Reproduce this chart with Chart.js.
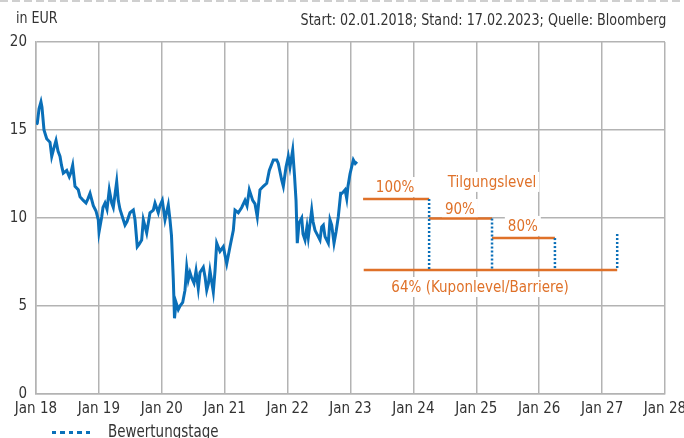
<!DOCTYPE html>
<html>
<head>
<meta charset="utf-8">
<script src="https://cdn.jsdelivr.net/npm/chart.js@4.4.0/dist/chart.umd.min.js"></script>
<style>
body { margin: 0; background: #fff; }
#wrap { position: relative; width: 684px; height: 438px; overflow: hidden; font-family: "Liberation Sans Narrow", "DejaVu Sans Condensed", sans-serif; color: #333; }
#topline { position: absolute; left: 0; top: 0; width: 684px; height: 2px; background: repeating-linear-gradient(to right, #cfcfcf 0 8px, transparent 8px 12px); }
#unit { position: absolute; left: 16px; top: 8px; font-size: 16px; transform: scaleX(0.88); transform-origin: left; }
#source { position: absolute; right: 18px; top: 10px; font-size: 16px; white-space: nowrap; transform: scaleX(0.885); transform-origin: right; }
#legend { position: absolute; left: 52px; top: 421px; font-size: 17px; white-space: nowrap; }
#legend .sample { display: inline-block; width: 42px; height: 3px; vertical-align: middle; margin-right: 14px; background: repeating-linear-gradient(to right, #0a70b9 0 4px, transparent 4px 8.5px); }
#legend .txt { display: inline-block; transform: scaleX(0.88); transform-origin: left; }
canvas { position: absolute; left: 0; top: 0; }
</style>
</head>
<body>
<div id="wrap">
  <canvas id="chart" width="684" height="438"></canvas>
  <div id="topline"></div>
  <div id="unit">in EUR</div>
  <div id="source">Start: 02.01.2018; Stand: 17.02.2023; Quelle: Bloomberg</div>
  <div id="legend"><span class="sample"></span><span class="txt">Bewertungstage</span></div>
</div>
<script>
// Kursverlauf (Zeit in Dezimaljahren)
const priceTimes = [
  2018.008, 2018.021, 2018.048, 2018.079, 2018.095, 2018.127, 2018.170, 2018.223, 2018.250, 2018.286,
  2018.318, 2018.350, 2018.382, 2018.405, 2018.434, 2018.488, 2018.529, 2018.556, 2018.583, 2018.620,
  2018.672, 2018.700, 2018.752, 2018.795, 2018.827, 2018.859, 2018.911, 2018.954, 2018.990,
  2019.002, 2019.045, 2019.065, 2019.097, 2019.129, 2019.165, 2019.204, 2019.229, 2019.283, 2019.308,
  2019.335, 2019.388, 2019.415, 2019.447, 2019.494, 2019.547, 2019.574, 2019.610, 2019.638, 2019.680,
  2019.706, 2019.760, 2019.812, 2019.865, 2019.892, 2019.944, 2019.971,
  2020.008, 2020.051, 2020.075, 2020.103, 2020.130, 2020.154, 2020.183, 2020.202, 2020.226, 2020.262,
  2020.289, 2020.332, 2020.369, 2020.396, 2020.421, 2020.448, 2020.475, 2020.512, 2020.544, 2020.580,
  2020.607, 2020.660, 2020.687, 2020.714, 2020.742, 2020.766, 2020.819, 2020.846, 2020.873, 2020.925,
  2020.978,
  2021.032, 2021.084, 2021.137, 2021.164, 2021.216, 2021.270, 2021.323, 2021.355, 2021.391, 2021.445,
  2021.482, 2021.518, 2021.561, 2021.614, 2021.668, 2021.709, 2021.773, 2021.827, 2021.852, 2021.906,
  2021.932, 2021.975,
  2022.011, 2022.038, 2022.081, 2022.110, 2022.134, 2022.154, 2022.181, 2022.224, 2022.245, 2022.277,
  2022.308, 2022.329, 2022.383, 2022.404, 2022.436, 2022.488, 2022.515, 2022.542, 2022.568, 2022.595,
  2022.647, 2022.674, 2022.701, 2022.738, 2022.770, 2022.806, 2022.844, 2022.865, 2022.913, 2022.940,
  2022.960, 2022.992,
  2023.045, 2023.076, 2023.103
];
const priceValues = [
  15.3, 15.4, 16.2, 16.6, 16.3, 15.0, 14.5, 14.3, 13.5, 14.0,
  14.4, 13.8, 13.5, 13.0, 12.55, 12.7, 12.35, 12.6, 13.0, 11.8,
  11.6, 11.2, 11.0, 10.85, 11.1, 11.4, 10.7, 10.4, 9.9,
  9.2, 10.07, 10.6, 10.85, 10.5, 11.6, 10.85, 10.6, 12.06, 11.0,
  10.5, 9.9, 9.6, 9.8, 10.3, 10.45, 9.9, 8.37, 8.5, 8.75,
  9.9, 9.15, 10.3, 10.45, 10.85, 10.3, 10.7,
  11.0, 9.9, 10.3, 10.74, 9.9, 9.0, 6.5, 4.3, 5.2, 4.8,
  5.0, 5.2, 5.9, 7.2, 6.5, 6.9, 6.6, 6.3, 7.0, 6.0,
  6.9, 7.2, 6.67, 5.9, 6.3, 7.0, 5.8, 7.0, 8.57, 8.1,
  8.37,
  7.4, 8.37, 9.3, 10.45, 10.3, 10.6, 11.0, 10.7, 11.6, 11.0,
  10.8, 10.07, 11.6, 11.8, 11.97, 12.7, 13.3, 13.3, 13.1, 12.16,
  11.8, 12.9,
  13.5, 12.9, 13.86, 12.4, 11.0, 8.57, 9.7, 10.0, 9.1, 8.75,
  9.5, 8.9, 10.45, 9.8, 9.3, 8.94, 8.75, 9.5, 9.6, 8.94,
  8.57, 9.9, 9.6, 8.57, 9.2, 10.07, 11.4, 11.4, 11.6, 11.1,
  11.8, 12.5,
  13.3, 13.1, 13.2
];

// Tilgungslevel-Stufen
const stepStarts = [2023.20, 2024.25, 2025.25];
const stepEnds = [2024.25, 2025.25, 2026.25];
const stepValues = [11.08, 9.97, 8.86];

// Kuponlevel / Barriere
const barrierStart = 2023.21;
const barrierEnd = 2027.24;
const barrierValue = 7.05;

// Bewertungstage
const obsDates = [2024.25, 2025.25, 2026.25, 2027.24];
const obsTops = [11.08, 9.97, 8.86, 9.09];

// Achsen
const xTicks = [2018, 2019, 2020, 2021, 2022, 2023, 2024, 2025, 2026, 2027, 2028];
const yTicks = [0, 5, 10, 15, 20];

// Beschriftungen im Chart (Anker in Datenkoordinaten)
const noteTexts = ['100%', 'Tilgungslevel', '90%', '80%', '64% (Kuponlevel/Barriere)'];
const noteTimes = [2023.71, 2025.25, 2024.74, 2025.74, 2025.06];
const noteValues = [11.76, 12.05, 10.51, 9.55, 6.08];

const orange = '#df7129';
const blue = '#0a6fb8';
const grid = '#b3b3b3';
const fontFam = '"Liberation Sans Narrow", "DejaVu Sans Condensed", sans-serif';

const datasets = [];
datasets.push({
    data: priceTimes.map((t, i) => ({ x: t, y: priceValues[i] })),
    borderColor: blue,
    borderWidth: 3,
    pointRadius: 0,
    tension: 0,
    order: 0
});
stepValues.forEach((v, i) => {
    datasets.push({
        data: [{ x: stepStarts[i], y: v }, { x: stepEnds[i], y: v }],
        borderColor: orange,
        borderWidth: 2.5,
        pointRadius: 0,
        order: 2
    });
});
datasets.push({
    data: [{ x: barrierStart, y: barrierValue }, { x: barrierEnd, y: barrierValue }],
    borderColor: orange,
    borderWidth: 2.5,
    pointRadius: 0,
    order: 2
});
obsDates.forEach((d, i) => {
    datasets.push({
        data: [{ x: d, y: obsTops[i] }, { x: d, y: barrierValue }],
        borderColor: blue,
        borderWidth: 2.5,
        borderDash: [2, 2],
        borderCapStyle: 'butt',
        pointRadius: 0,
        order: 1
    });
});

// Textfelder mit weissem Hintergrund (verdecken das Gitter)
const notesPlugin = {
    id: 'notes',
    beforeDatasetsDraw(chart) {
        const ctx = chart.ctx;
        const xs = chart.scales.x, ys = chart.scales.y;
        ctx.save();
        ctx.font = '15px ' + fontFam;
        ctx.textAlign = 'center';
        ctx.textBaseline = 'middle';
        noteTexts.forEach((txt, i) => {
            const px = xs.getPixelForValue(noteTimes[i]);
            const py = ys.getPixelForValue(noteValues[i]);
            const w = ctx.measureText(txt).width;
            ctx.fillStyle = '#fff';
            ctx.fillRect(px - w / 2 - 3, py - 10, w + 6, 20);
            ctx.fillStyle = orange;
            ctx.fillText(txt, px, py + 1);
        });
        ctx.restore();
    }
};

new Chart(document.getElementById('chart'), {
    type: 'line',
    data: { datasets: datasets },
    options: {
        responsive: false,
        animation: false,
        layout: { padding: { top: 42, right: 19, left: 0, bottom: 0 } },
        plugins: { legend: { display: false }, tooltip: { enabled: false } },
        scales: {
            x: {
                type: 'linear',
                min: 2018,
                max: 2028,
                afterBuildTicks: s => { s.ticks = xTicks.map(v => ({ value: v })); },
                afterFit: s => { s.height = 44; s.paddingLeft = 0; s.paddingRight = 0; },
                ticks: {
                    color: '#333',
                    font: { family: fontFam, size: 15 },
                    padding: 6,
                    maxRotation: 0,
                    callback: v => 'Jan ' + String(v).slice(2)
                },
                grid: { color: grid, lineWidth: 1.5, drawTicks: false },
                border: { color: grid, width: 1.5 }
            },
            y: {
                min: 0,
                max: 20,
                afterBuildTicks: s => { s.ticks = yTicks.map(v => ({ value: v })); },
                afterFit: s => { s.width = 36; },
                ticks: {
                    color: '#333',
                    font: { family: fontFam, size: 15 },
                    padding: 9
                },
                grid: { color: grid, lineWidth: 1.5, drawTicks: false },
                border: { color: grid, width: 1.5 }
            }
        }
    },
    plugins: [notesPlugin]
});
</script>
</body>
</html>
